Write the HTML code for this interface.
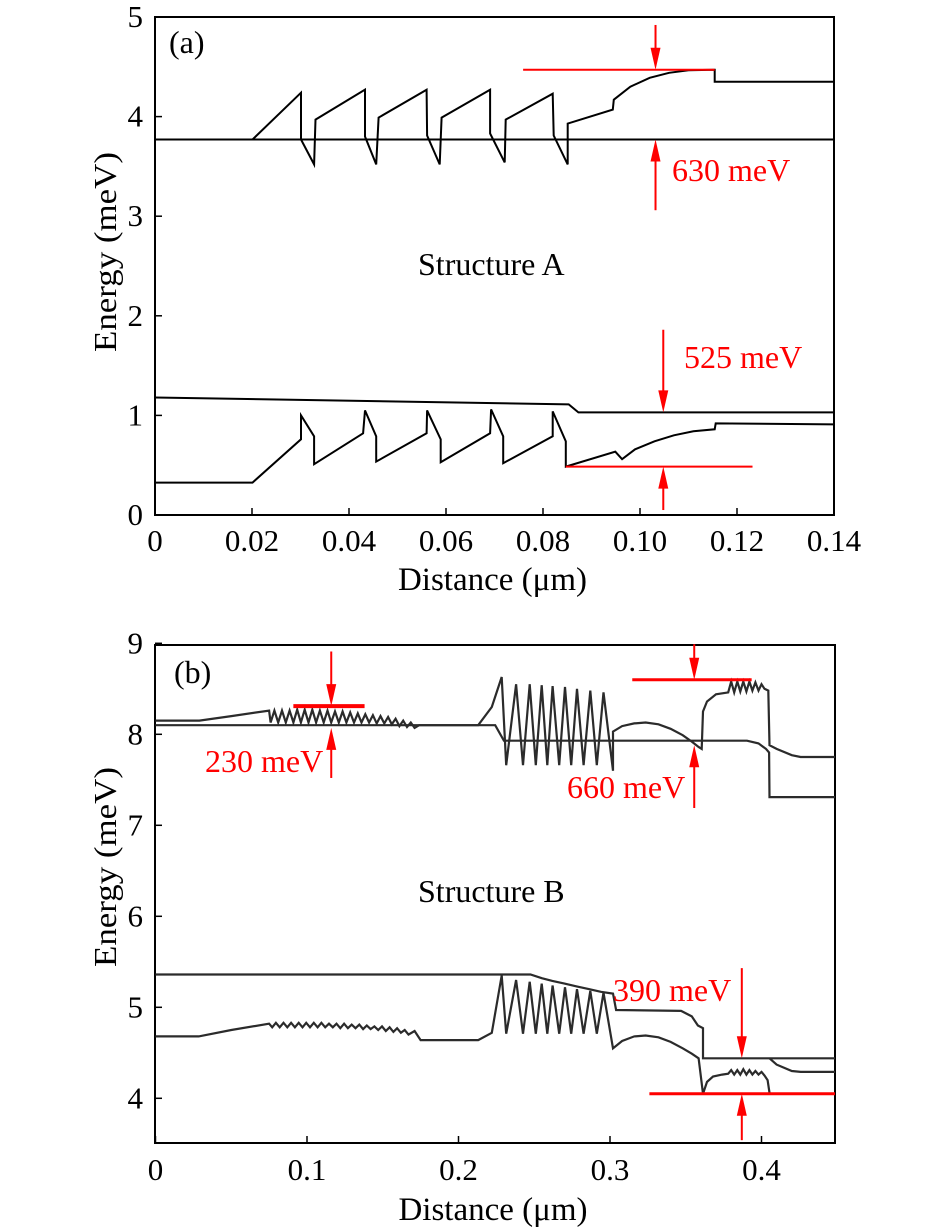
<!DOCTYPE html>
<html><head><meta charset="utf-8"><style>
body{margin:0;background:#fff}
svg{display:block;font-family:"Liberation Serif",serif}
</style></head><body>
<svg id="fig" width="945" height="1230" viewBox="0 0 945 1230">
<g id="pa"></g>
<g id="pb"></g>
</svg>
<script>
// ---------- Panel (a) data ----------
const aXTicks = [0,0.02,0.04,0.06,0.08,0.10,0.12,0.14];
const aXTickLabels = ["0","0.02","0.04","0.06","0.08","0.10","0.12","0.14"];
const aYTicks = [0,1,2,3,4,5];
const aFlatCB = [[0,3.77],[0.14,3.77]];
const aCB = [[0.0201,3.77],[0.0301,4.24],[0.0301,3.77],[0.0328,3.52],[0.0331,3.97],[0.0433,4.27],[0.0433,3.80],[0.0456,3.52],[0.0461,3.99],[0.0560,4.27],[0.0561,3.81],[0.0587,3.52],[0.0591,3.99],[0.0691,4.27],[0.0691,3.83],[0.0721,3.54],[0.0723,3.97],[0.0820,4.23],[0.0822,3.81],[0.0851,3.52],[0.0851,3.93],[0.0944,4.07],[0.0946,4.17],[0.098,4.30],[0.102,4.39],[0.106,4.44],[0.110,4.465],[0.1154,4.47],[0.1154,4.35],[0.14,4.35]];
const aVBtop = [[0,1.18],[0.0853,1.11],[0.0873,1.03],[0.14,1.03]];
const aVB = [[0,0.325],[0.0201,0.325],[0.0301,0.76],[0.0301,1.00],[0.0328,0.79],[0.0328,0.51],[0.0429,0.82],[0.0433,1.05],[0.0456,0.79],[0.0456,0.536],[0.0560,0.82],[0.0561,1.05],[0.0589,0.76],[0.0589,0.53],[0.0691,0.82],[0.0693,1.06],[0.0718,0.79],[0.0718,0.52],[0.0820,0.79],[0.0820,1.04],[0.0847,0.74],[0.0847,0.486],[0.0949,0.636],[0.0963,0.56],[0.099,0.66],[0.103,0.74],[0.107,0.80],[0.111,0.84],[0.1154,0.86],[0.1156,0.92],[0.14,0.91]];
// ---------- Panel (b) data ----------
const bXTicks = [0,0.1,0.2,0.3,0.4];
const bXTickLabels = ["0","0.1","0.2","0.3","0.4"];
const bYTicks = [4,5,6,7,8,9];
const bCB1 = [[0,8.15],[0.029,8.15],[0.05,8.2],[0.075,8.26],
 [0.076,8.13],[0.0785,8.26],[0.081,8.13],[0.0835,8.26],[0.086,8.13],[0.0885,8.26],[0.091,8.13],[0.0935,8.27],[0.096,8.13],[0.0985,8.27],[0.101,8.13],[0.1035,8.27],[0.106,8.13],[0.1085,8.26],[0.111,8.13],[0.1135,8.26],[0.116,8.13],[0.1185,8.25],[0.121,8.13],[0.1235,8.25],[0.126,8.13],[0.1285,8.24],[0.131,8.13],[0.1335,8.23],[0.136,8.13],[0.1385,8.22],[0.141,8.13],[0.1435,8.21],[0.146,8.12],[0.1485,8.2],[0.151,8.12],[0.1535,8.19],[0.156,8.11],[0.1585,8.17],[0.161,8.09],[0.1635,8.15],[0.166,8.08],[0.1685,8.13],[0.171,8.07],[0.174,8.10],
 [0.213,8.10],[0.222,8.3],[0.2285,8.63],[0.2315,7.66],[0.238,8.55],[0.2426,7.66],[0.247,8.55],[0.251,7.66],[0.2549,8.54],[0.2586,7.66],[0.2621,8.53],[0.2665,7.66],[0.2703,8.52],[0.2744,7.66],[0.2782,8.50],[0.2826,7.66],[0.287,8.48],[0.2913,7.66],[0.2957,8.46],[0.302,7.60],[0.302,8.03],
 [0.308,8.09],[0.316,8.12],[0.3235,8.13],[0.332,8.11],[0.340,8.06],[0.348,7.99],[0.354,7.92],[0.3585,7.86],[0.3605,7.84],[0.3614,8.25],[0.364,8.36],[0.370,8.44],[0.378,8.46],
 [0.380,8.58],[0.382,8.46],[0.384,8.58],[0.386,8.47],[0.388,8.58],[0.390,8.47],[0.392,8.58],[0.394,8.48],[0.396,8.57],[0.398,8.48],[0.400,8.55],[0.402,8.50],[0.4045,8.48],[0.4053,7.88],[0.41,7.84],[0.42,7.77],[0.4258,7.75],[0.4485,7.75]];
const bCB2 = [[0,8.10],[0.2242,8.10],[0.23,7.93],[0.3904,7.93],[0.398,7.90],[0.403,7.84],[0.405,7.80],[0.4053,7.31],[0.4485,7.31]];
const bVB1 = [[0,5.36],[0.2475,5.36],[0.255,5.32],[0.262,5.29],[0.27,5.26],[0.278,5.23],[0.286,5.20],[0.294,5.17],[0.302,5.15],[0.304,4.97],[0.3469,4.96],[0.354,4.90],[0.358,4.80],[0.3614,4.77],[0.3614,4.44],[0.4485,4.44]];
const bVB2 = [[0,4.68],[0.0285,4.68],[0.05,4.75],[0.075,4.82],
 [0.077,4.78],[0.0795,4.83],[0.082,4.78],[0.0845,4.83],[0.087,4.78],[0.0895,4.83],[0.092,4.78],[0.0945,4.83],[0.097,4.78],[0.0995,4.83],[0.102,4.78],[0.1045,4.83],[0.107,4.78],[0.1095,4.83],[0.112,4.78],[0.1145,4.82],[0.117,4.78],[0.1195,4.82],[0.122,4.77],[0.1245,4.82],[0.127,4.77],[0.1295,4.81],[0.132,4.77],[0.1345,4.81],[0.137,4.76],[0.1395,4.80],[0.142,4.76],[0.1445,4.79],[0.147,4.75],[0.1495,4.79],[0.152,4.74],[0.1545,4.78],[0.157,4.73],[0.1595,4.77],[0.162,4.72],[0.1645,4.75],[0.167,4.70],[0.171,4.74],[0.175,4.64],
 [0.213,4.64],[0.222,4.72],[0.2285,5.35],[0.2315,4.71],[0.238,5.30],[0.2426,4.71],[0.247,5.28],[0.251,4.71],[0.2549,5.26],[0.2586,4.71],[0.2621,5.24],[0.2665,4.71],[0.2703,5.22],[0.2744,4.71],[0.2782,5.20],[0.2826,4.71],[0.287,5.18],[0.2913,4.71],[0.2957,5.16],[0.302,4.55],
 [0.308,4.63],[0.316,4.68],[0.3235,4.69],[0.332,4.67],[0.340,4.62],[0.348,4.55],[0.354,4.49],[0.3585,4.44],[0.3614,4.05],[0.364,4.18],[0.368,4.24],[0.374,4.26],[0.378,4.27],
 [0.380,4.31],[0.382,4.26],[0.384,4.31],[0.386,4.26],[0.388,4.32],[0.390,4.26],[0.392,4.31],[0.394,4.26],[0.396,4.30],[0.398,4.26],[0.400,4.29],[0.402,4.25],[0.404,4.20],[0.4053,4.06]];
const bVB3 = [[0.4053,4.44],[0.41,4.37],[0.42,4.30],[0.4258,4.29],[0.4485,4.29]];

const NS="http://www.w3.org/2000/svg";
function mk(parent,tag,attrs,name,txt){
  const e=document.createElementNS(NS,tag);
  for(const k in attrs)e.setAttribute(k,attrs[k]);
  
  
  if(txt!==undefined)e.textContent=txt;
  parent.appendChild(e);return e;
}
function poly(g,pts,sx,sy,stroke,w,name){
  const d=pts.map((p,i)=>(i?'L':'M')+sx(p[0]).toFixed(1)+' '+sy(p[1]).toFixed(1)).join(' ');
  mk(g,'path',{d:d,fill:'none',stroke:stroke,'stroke-width':w,'stroke-linejoin':'miter'},name);
}
function arrow(g,x,y1,y2,name){
  const dir=y2>y1?1:-1;
  mk(g,'line',{x1:x,y1:y1,x2:x,y2:y2-dir*12,stroke:'#f00','stroke-width':2},name+'-shaft');
  mk(g,'path',{d:`M${x-5} ${y2-dir*22} L${x+5} ${y2-dir*22} L${x} ${y2} Z`,fill:'#f00'},name+'-head');
}
function axes(g,L,T,R,B,sx,sy,xt,xl,yt,xLabY,titleY,titleX,ytitleY){
  mk(g,'rect',{x:L,y:T,width:R-L,height:B-T,fill:'none',stroke:'#000','stroke-width':2},'plot-frame');
  xt.forEach((v,i)=>{
    mk(g,'line',{x1:sx(v),y1:B,x2:sx(v),y2:B-7,stroke:'#000','stroke-width':1.5},'x-tick');
    mk(g,'text',{x:sx(v),y:xLabY,'font-size':31,'text-anchor':'middle'},'x-tick-label',xl[i]);
  });
  yt.forEach(v=>{
    mk(g,'line',{x1:L,y1:sy(v),x2:L+7,y2:sy(v),stroke:'#000','stroke-width':1.5},'y-tick');
    mk(g,'text',{x:L-12,y:sy(v)+10,'font-size':31,'text-anchor':'end'},'y-tick-label',String(v));
  });
  mk(g,'text',{x:(L+R)/2-2,y:titleY,'font-size':33,'text-anchor':'middle'},'x-axis-title','Distance (\u03bcm)');
  mk(g,'text',{x:0,y:0,'font-size':32,'text-anchor':'middle',textLength:200,lengthAdjust:'spacingAndGlyphs',transform:`translate(${titleX},${ytitleY}) rotate(-90)`},'y-axis-title','Energy (meV)');
}
// Panel a
(function(){
  const g=document.getElementById('pa');
  const L=155,R=834,T=17,B=515;
  const sx=v=>L+v/0.14*(R-L), sy=v=>B-v/5*(B-T);
  axes(g,L,T,R,B,sx,sy,aXTicks,aXTickLabels,aYTicks,551,590,116,252);
  poly(g,aFlatCB,sx,sy,'#000',2,'conduction-band-flat');
  poly(g,aCB,sx,sy,'#000',2,'conduction-band');
  poly(g,aVBtop,sx,sy,'#000',2,'valence-band-upper');
  poly(g,aVB,sx,sy,'#000',2,'valence-band');
  mk(g,'text',{x:169,y:53,'font-size':32},'panel-label','(a)');
  mk(g,'text',{x:418,y:275,'font-size':32},'structure-label','Structure A');
  mk(g,'line',{x1:sx(0.0759),y1:sy(4.47),x2:sx(0.1154),y2:sy(4.47),stroke:'#f00','stroke-width':2},'ref-line-cb');
  arrow(g,sx(0.1032),sy(4.92),sy(4.47),'arrow-630-down');
  arrow(g,sx(0.1032),sy(3.06),sy(3.77),'arrow-630-up');
  mk(g,'text',{x:672,y:181,'font-size':32,fill:'#f00'},'label-630','630 meV');
  arrow(g,sx(0.1048),sy(1.86),sy(1.03),'arrow-525-down');
  mk(g,'line',{x1:sx(0.0847),y1:sy(0.486),x2:sx(0.1232),y2:sy(0.486),stroke:'#f00','stroke-width':2},'ref-line-vb');
  arrow(g,sx(0.1048),sy(0.05),sy(0.486),'arrow-525-up');
  mk(g,'text',{x:684,y:368,'font-size':32,fill:'#f00'},'label-525','525 meV');
})();
// Panel b
(function(){
  const g=document.getElementById('pb');
  const L=155,R=835,T=645,B=1143;
  const sx=v=>155.5+v*1515, sy=v=>734.3-(v-8)*91;
  axes(g,L,T,R,B,sx,sy,bXTicks,bXTickLabels,bYTicks,1180,1220,116,867);
  const c='#2b2b2b';
  poly(g,bCB2,sx,sy,c,2.2,'conduction-band-2');
  poly(g,bCB1,sx,sy,c,2.2,'conduction-band-1');
  poly(g,bVB1,sx,sy,c,2.2,'valence-band-1');
  poly(g,bVB2,sx,sy,c,2.2,'valence-band-2');
  poly(g,bVB3,sx,sy,c,2.2,'valence-band-3');
  mk(g,'text',{x:174,y:683,'font-size':32},'panel-label','(b)');
  mk(g,'text',{x:418,y:902,'font-size':32},'structure-label','Structure B');
  mk(g,'line',{x1:sx(0.091),y1:sy(8.31),x2:sx(0.138),y2:sy(8.31),stroke:'#f00','stroke-width':4},'ref-line-230');
  arrow(g,sx(0.116),sy(8.91),sy(8.31),'arrow-230-down');
  arrow(g,sx(0.116),sy(7.52),sy(8.07),'arrow-230-up');
  mk(g,'text',{x:205,y:772,'font-size':32,fill:'#f00'},'label-230','230 meV');
  mk(g,'line',{x1:sx(0.3147),y1:sy(8.60),x2:sx(0.3935),y2:sy(8.60),stroke:'#f00','stroke-width':3},'ref-line-660');
  arrow(g,sx(0.3556),sy(8.99),sy(8.60),'arrow-660-down');
  arrow(g,sx(0.3556),sy(7.19),sy(7.88),'arrow-660-up');
  mk(g,'text',{x:567,y:798,'font-size':32,fill:'#f00'},'label-660','660 meV');
  mk(g,'line',{x1:sx(0.326),y1:sy(4.05),x2:R,y2:sy(4.05),stroke:'#f00','stroke-width':3},'ref-line-390');
  arrow(g,sx(0.387),sy(5.43),sy(4.44),'arrow-390-down');
  arrow(g,sx(0.387),sy(3.54),sy(4.05),'arrow-390-up');
  mk(g,'text',{x:613,y:1001,'font-size':32,fill:'#f00'},'label-390','390 meV');
})();
</script>
</body></html>
